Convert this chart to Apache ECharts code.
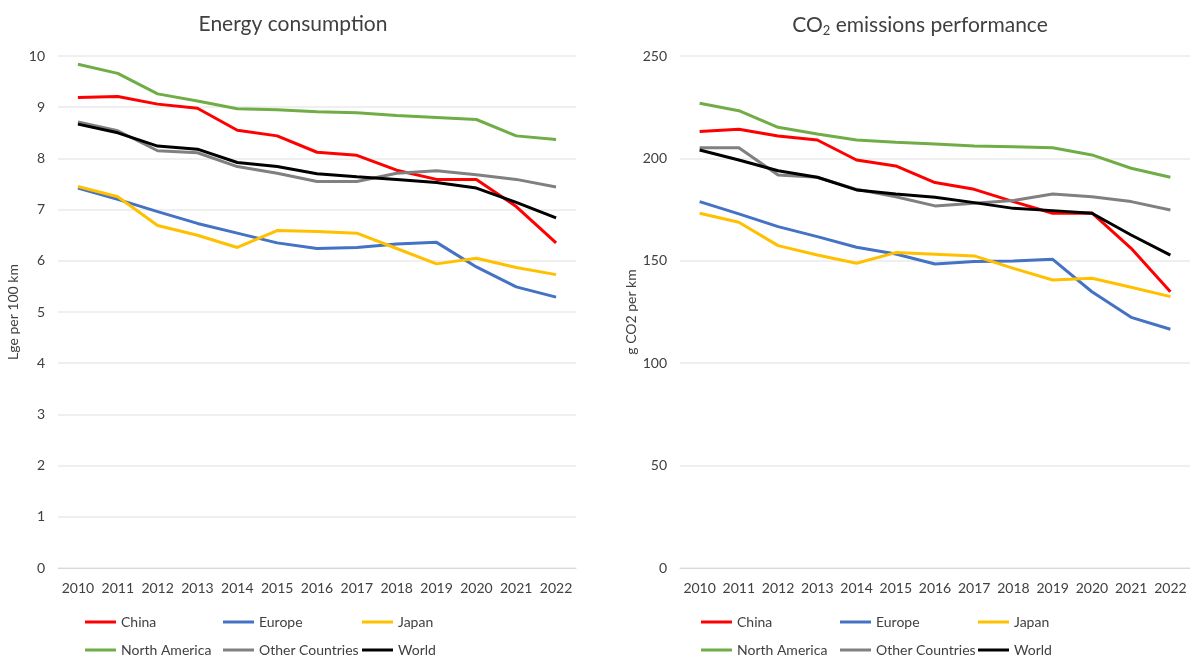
<!DOCTYPE html>
<html><head><meta charset="utf-8">
<script src="https://cdn.jsdelivr.net/npm/echarts@6/dist/echarts.min.js"></script>
<style>html,body{margin:0;padding:0;background:#fff}#c{width:1190px;height:658px}</style>
</head><body><div id="c"></div>
<script>
const years = ['2010','2011','2012','2013','2014','2015','2016','2017','2018','2019','2020','2021','2022'];
const seriesNames = ['China','Europe','Japan','North America','Other Countries','World'];
const seriesColors = ['#FF0000','#4472C4','#FFC000','#70AD47','#808080','#000000'];

// Energy consumption (Lge per 100 km)
const energyChina   = [9.19,9.21,9.06,8.98,8.55,8.44,8.12,8.06,7.77,7.59,7.59,7.06,6.35];
const energyEurope  = [7.42,7.20,6.96,6.73,6.54,6.35,6.24,6.26,6.33,6.36,5.88,5.49,5.29];
const energyJapan   = [7.45,7.25,6.69,6.50,6.26,6.59,6.57,6.54,6.24,5.94,6.05,5.87,5.73];
const energyNA      = [9.84,9.66,9.26,9.12,8.97,8.95,8.91,8.89,8.84,8.80,8.76,8.44,8.37];
const energyOther   = [8.71,8.54,8.15,8.11,7.84,7.71,7.55,7.55,7.71,7.76,7.68,7.59,7.44];
const energyWorld   = [8.67,8.50,8.24,8.18,7.92,7.84,7.70,7.64,7.59,7.53,7.42,7.14,6.84];

// CO2 emissions performance (g CO2 per km)
const co2China  = [213.1,214.2,210.9,209.0,199.2,196.3,188.2,184.9,178.9,173.2,173.4,156.1,134.9];
const co2Europe = [178.9,172.9,166.7,161.8,156.6,153.3,148.4,149.6,149.9,150.7,134.9,122.4,116.6];
const co2Japan  = [173.2,168.8,157.4,152.8,148.8,154.0,153.2,152.4,146.3,140.6,141.5,137.1,132.5];
const co2NA     = [226.9,223.3,215.2,211.9,209.0,207.9,207.0,206.1,205.7,205.2,201.7,195.2,190.8];
const co2Other  = [205.2,205.2,191.9,190.8,184.9,181.3,176.8,178.1,179.4,182.6,181.3,178.9,174.8];
const co2World  = [204.1,199.2,194.0,190.8,184.6,182.6,181.0,178.4,175.6,174.5,173.2,162.6,152.8];

const energyData = [energyChina,energyEurope,energyJapan,energyNA,energyOther,energyWorld];
const co2Data = [co2China,co2Europe,co2Japan,co2NA,co2Other,co2World];

const FONT = 'Lato';
const chart = echarts.init(document.getElementById('c'), null, {renderer:'canvas'});

function xAxis(i){
  return {type:'category', gridIndex:i, data:years, boundaryGap:true,
    axisLine:{show:true, lineStyle:{color:'#d9d9d9', width:1}}, axisTick:{show:false},
    axisLabel:{color:'#404040', fontSize:14, fontFamily:FONT, margin:13, interval:0}};
}
function yAxis(i, max, interval, name, gap){
  return {type:'value', gridIndex:i, min:0, max:max, interval:interval,
    name:name, nameLocation:'middle', nameGap:gap, nameRotate:90,
    nameTextStyle:{color:'#404040', fontSize:14, fontFamily:FONT},
    axisLine:{show:false}, axisTick:{show:false},
    axisLabel:{color:'#404040', fontSize:14, fontFamily:FONT, margin:13},
    splitLine:{show:true, lineStyle:{color:'#efefef', width:2}}};
}
const series = [];
seriesNames.forEach((n,k)=>{
  series.push({name:n, type:'line', xAxisIndex:0, yAxisIndex:0, data:energyData[k], symbol:'none',
    lineStyle:{color:seriesColors[k], width:3}, itemStyle:{color:seriesColors[k]}, z:2+k, animation:false});
  series.push({name:n, type:'line', xAxisIndex:1, yAxisIndex:1, data:co2Data[k], symbol:'none',
    lineStyle:{color:seriesColors[k], width:3}, itemStyle:{color:seriesColors[k]}, z:2+k, animation:false});
});
function legendItem(left, top, name){
  return {left:left, top:top, padding:0, orient:'horizontal', icon:'rect', itemWidth:31, itemHeight:3,
    selectedMode:false, data:[name],
    textStyle:{color:'#404040', fontSize:14, fontFamily:FONT}};
}
const legendCols = [[85,223,362],[701,840,978]];
const legendRows = [615,643];
const legends = [];
legendCols.forEach(cols=>{
  seriesNames.forEach((n,k)=>{
    legends.push(legendItem(cols[k%3], legendRows[Math.floor(k/3)], n));
  });
});
chart.setOption({
  animation:false,
  backgroundColor:'#fff',
  title:[
    {text:'Energy consumption', left:288, top:9, textAlign:'center',
     textStyle:{fontSize:21, fontWeight:'normal', color:'#404040', fontFamily:FONT}},
    {text:'{a|CO}{b|2}{a| emissions performance}', left:915, top:9, textAlign:'center',
     textStyle:{fontSize:21, fontWeight:'normal', color:'#404040', fontFamily:FONT,
       rich:{a:{fontSize:21, color:'#404040', fontFamily:FONT},
             b:{fontSize:13, color:'#404040', fontFamily:FONT, padding:[10,0,0,0]}}}}
  ],
  grid:[
    {left:58, right:614, top:56, bottom:90, containLabel:false},
    {left:680, right:0, top:56, bottom:90, containLabel:false}
  ],
  xAxis:[xAxis(0), xAxis(1)],
  yAxis:[yAxis(0,10,1,'Lge per 100 km',38), yAxis(1,250,50,'g CO2 per km',42)],
  legend:legends,
  series:series
});
</script></body></html>
